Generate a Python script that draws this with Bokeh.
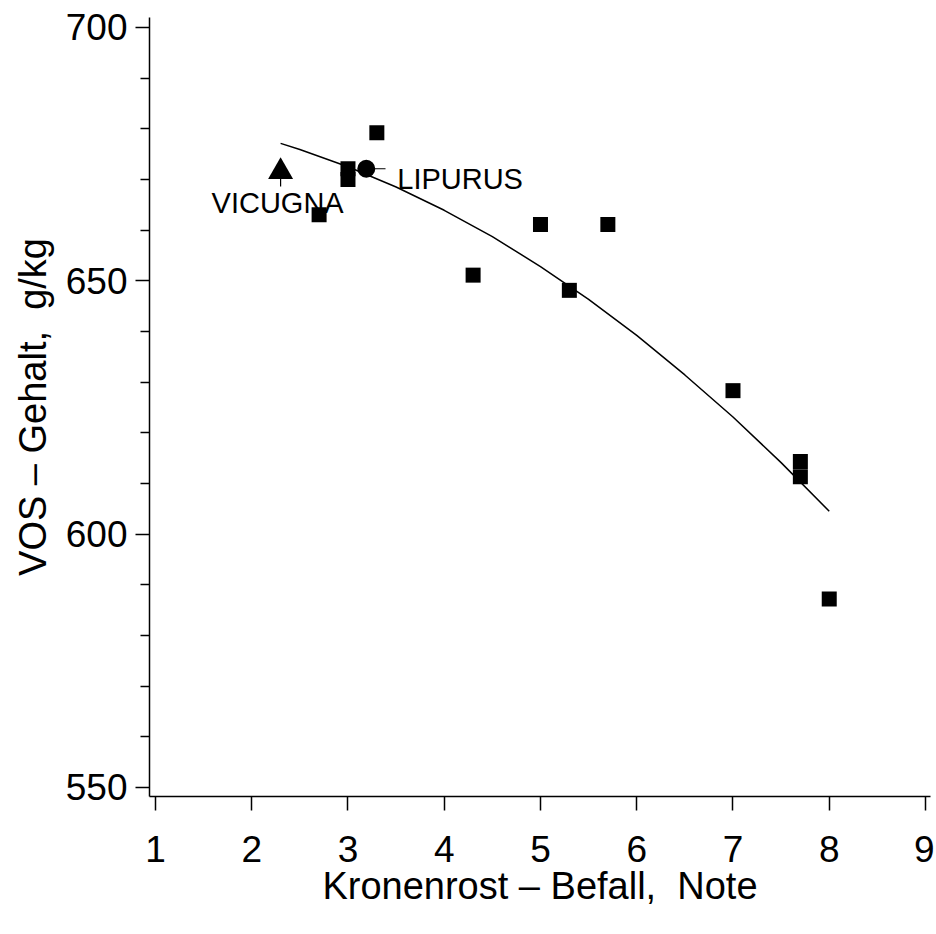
from bokeh.plotting import figure
from bokeh.models import FixedTicker, Range1d, ColumnDataSource
from bokeh.core.properties import value
from bokeh.embed import file_html
from bokeh.resources import INLINE

# --- data ---
sq_x = [2.7, 3.0, 3.0, 3.3, 4.3, 5.0, 5.3, 5.7, 7.0, 7.7, 7.7, 8.0]
sq_y = [663.0, 672.1, 670.0, 679.2, 651.1, 661.1, 648.1, 661.1, 628.3, 614.3, 611.3, 587.2]

vic_x = [2.3]
vic_y = [671.5]
lip_x = [3.19]
lip_y = [672.1]

fit_x = [2.3, 2.5, 3.0, 3.5, 4.0, 4.5, 5.0, 5.5, 6.0, 6.5, 7.0, 7.5, 8.0]
fit_y = [677.1, 675.9, 672.5, 668.5, 663.9, 658.7, 652.8, 646.3, 639.2, 631.4, 623.1, 614.1, 604.5]

label_names = ["VICUGNA", "LIPURUS"]
label_x = [2.3, 3.19]
label_y = [671.5, 672.1]
label_dx = [-3, 31]
label_dy = [31, 10]
label_align = ["center", "left"]

lead_x0 = [2.3, 3.19]
lead_y0 = [671.5, 672.1]
lead_x1 = [2.3, 3.39]
lead_y1 = [668.6, 672.1]

x_ticks = [1, 2, 3, 4, 5, 6, 7, 8, 9]
y_ticks = [550, 600, 650, 700]
y_minor = [560, 570, 580, 590, 610, 620, 630, 640, 660, 670, 680, 690]

FONT = "Liberation Sans"

p = figure(width=934, height=934, output_backend="svg", toolbar_location=None,
           x_range=Range1d(0.938, 9.052), y_range=Range1d(548.2, 701.95),
           min_border_left=149, min_border_top=17, min_border_right=4,
           min_border_bottom=138)
p.outline_line_color = None
p.xgrid.visible = False
p.ygrid.visible = False
p.background_fill_color = "white"
p.border_fill_color = "white"

# fitted curve
p.line(fit_x, fit_y, line_color="black", line_width=1.5)

# leader lines
p.segment(x0=lead_x0, y0=lead_y0, x1=lead_x1, y1=lead_y1, line_color="black", line_width=1.2)

# markers
p.scatter(sq_x, sq_y, marker="square", size=15, fill_color="black", line_color="black", line_width=0)
p.scatter(vic_x, vic_y, marker="triangle", size=25, fill_color="black", line_color="black", line_width=0)
p.scatter(lip_x, lip_y, marker="circle", size=18, fill_color="black", line_color="black", line_width=0)

src = ColumnDataSource(dict(x=label_x, y=label_y, t=label_names, dx=label_dx, dy=label_dy, al=label_align))
p.text(x="x", y="y", text="t", x_offset="dx", y_offset="dy", text_align="al",
       text_baseline="alphabetic", text_font=value(FONT), text_font_size="29px",
       text_color="black", source=src)

# axes
for ax in (p.xaxis[0], p.yaxis[0]):
    ax.axis_line_width = 1.5
    ax.axis_line_color = "black"
    ax.major_tick_line_width = 1.5
    ax.major_tick_line_color = "black"
    ax.minor_tick_line_width = 1.5
    ax.minor_tick_line_color = "black"
    ax.major_tick_in = 0
    ax.major_tick_out = 14
    ax.minor_tick_in = 0
    ax.major_label_text_font = FONT
    ax.major_label_text_font_size = "37px"
    ax.major_label_text_color = "black"
    ax.axis_label_text_font = FONT
    ax.axis_label_text_font_size = "38px"
    ax.axis_label_text_font_style = "normal"
    ax.axis_label_text_color = "black"

p.xaxis.ticker = FixedTicker(ticks=x_ticks)
p.xaxis.minor_tick_out = 0
p.xaxis.major_label_standoff = 25
p.xaxis.axis_label = "Kronenrost – Befall,\u00a0 Note"
p.xaxis.axis_label_standoff = 0

p.yaxis.ticker = FixedTicker(ticks=y_ticks, minor_ticks=y_minor)
p.yaxis.minor_tick_out = 9
p.yaxis.major_label_standoff = 8
p.yaxis.axis_label = "VOS – Gehalt,\u00a0 g/kg"
p.yaxis.axis_label_standoff = 9

open("out.html", "w").write(file_html(p, INLINE))
